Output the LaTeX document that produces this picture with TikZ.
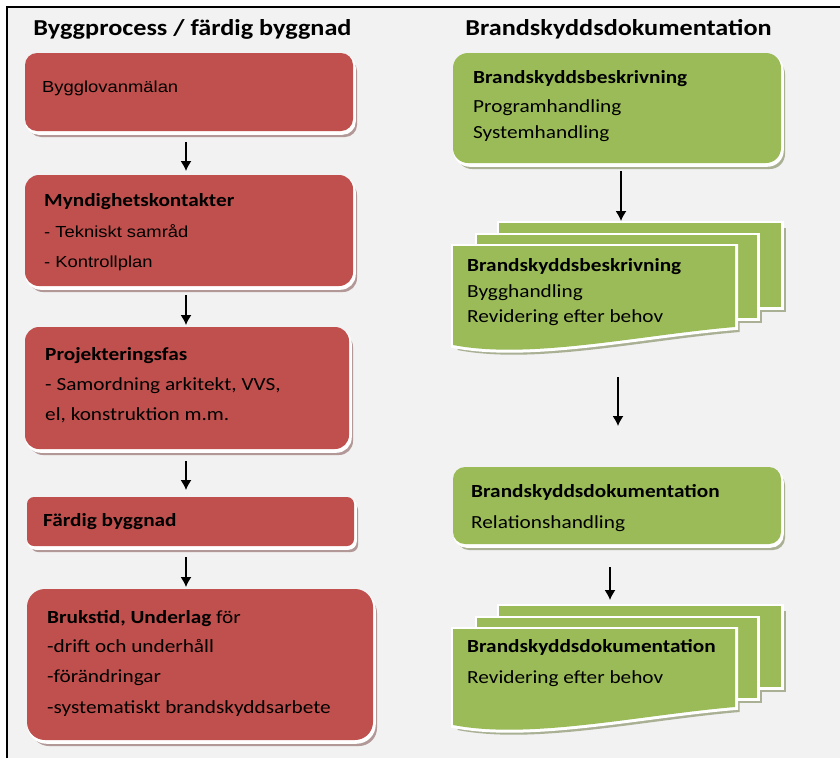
\documentclass[tikz,border=0pt]{standalone}
\usepackage{fontspec}
\setmainfont{Carlito}[FakeStretch=1.15]
\newfontfamily\arialf{Liberation Sans}[FakeStretch=1.15]
\usetikzlibrary{arrows.meta,calc}
\definecolor{bg}{HTML}{F2F2F2}
\definecolor{rboxc}{HTML}{C0504D}
\definecolor{gboxc}{HTML}{9BBB59}
\definecolor{rshad}{HTML}{B39898}
\definecolor{gshad}{HTML}{A9B094}
\newcommand\layered[3]{%
  \fill[#2, shift={(4,6)}] #3;
  \filldraw[white, line width=2.5, shift={(1.5,2.5)}] #3;
  \fill[#1] #3;}
\newcommand\shadowonly[2]{\fill[#1, shift={(4.5,5)}] #2;}
\newcommand\sheet[2]{%
  \filldraw[white, line width=5, shift={(0.5,0.5)}] #2;
  \fill[#1] #2;}
\newcommand\mdoc[2]{% #1 = top of back sheet, #2 = height
  \shadowonly{gshad}{(499,#1) rectangle (781,#1+#2)}
  \shadowonly{gshad}{(477,#1+12) rectangle (757,#1+11+#2)}
  \shadowonly{gshad}{(453,#1+23) -- (735,#1+23) -- (735,#1+20+#2)
     .. controls (640,#1+28+#2) and (530,#1+53+#2) .. (453,#1+38+#2) -- cycle}
  \sheet{gboxc}{(499,#1) rectangle (781,#1+#2)}
  \sheet{gboxc}{(477,#1+12) rectangle (757,#1+11+#2)}
  \sheet{gboxc}{(453,#1+23) -- (735,#1+23) -- (735,#1+20+#2)
     .. controls (640,#1+28+#2) and (530,#1+53+#2) .. (453,#1+38+#2) -- cycle}}
\begin{document}
\begin{tikzpicture}[x=1pt,y=-1pt,
  txt/.style={anchor=base west, inner sep=0pt, font=\fontsize{18.5}{22}\selectfont},
  atxt/.style={anchor=base west, inner sep=0pt, font=\arialf\fontsize{16}{20}\selectfont},
  ttl/.style={anchor=base, inner sep=0pt, font=\bfseries\fontsize{22.8}{26}\selectfont},
  arr/.style={line width=1.3pt, -{Latex[length=10pt,width=11pt]}}]
\useasboundingbox (0,0) rectangle (840,758);
\fill[white] (0,0) rectangle (840,758);
\fill[bg] (7,7) rectangle (840,758);
\draw[line width=1.5pt] (7,758) -- (7,7) -- (840,7);

% titles
\node[ttl] (title1) at (192.5,35) {Byggprocess / färdig byggnad};
\node[ttl] (title2) at (618.5,35) {Brandskyddsdokumentation};

% red boxes
\layered{rboxc}{rshad}{[rounded corners=12pt] (25,53) rectangle (353,131)}
\layered{rboxc}{rshad}{[rounded corners=14pt] (25,175) rectangle (353,286)}
\layered{rboxc}{rshad}{[rounded corners=14pt] (25,327) rectangle (349,449)}
\layered{rboxc}{rshad}{[rounded corners=7pt] (27,497) rectangle (354,546)}
\layered{rboxc}{rshad}{[rounded corners=18pt] (27,589) rectangle (373,740)}

\node[atxt] (b1) at (42,92) {Bygglovanmälan};
\node[txt] (b2a) at (44,206) {\bfseries Myndighetskontakter};
\node[atxt] (b2b) at (44,237) {- Tekniskt samråd};
\node[atxt] (b2c) at (44,267) {- Kontrollplan};
\node[txt] (b3a) at (45,360) {\bfseries Projekteringsfas};
\node[txt] (b3b) at (45,390) {- Samordning arkitekt, VVS,};
\node[txt] (b3c) at (45,420) {el, konstruktion m.m.};
\node[txt] (b4) at (43,526) {\bfseries Färdig byggnad};
\node[txt] (b5a) at (47,623) {\textbf{Brukstid, Underlag} för};
\node[txt] (b5b) at (47,652) {-drift och underhåll};
\node[txt] (b5c) at (47,682) {-förändringar};
\node[txt] (b5d) at (47,713) {-systematiskt brandskyddsarbete};

% green boxes
\layered{gboxc}{gshad}{[rounded corners=15pt] (453,53) rectangle (781,163)}
\mdoc{223}{84}
\layered{gboxc}{gshad}{[rounded corners=12pt] (453,467) rectangle (781,544)}
\mdoc{606}{81}

\node[txt] (g1a) at (473,83) {\bfseries Brandskyddsbeskrivning};
\node[txt] (g1b) at (473,112) {Programhandling};
\node[txt] (g1c) at (473,138) {Systemhandling};
\node[txt] (g2a) at (467,271) {\bfseries Brandskyddsbeskrivning};
\node[txt] (g2b) at (467,297) {Bygghandling};
\node[txt] (g2c) at (467,322) {Revidering efter behov};
\node[txt] (g3a) at (471,497) {\bfseries Brandskyddsdokumentation};
\node[txt] (g3b) at (471,528) {Relationshandling};
\node[txt] (g4a) at (467,652) {\bfseries Brandskyddsdokumentation};
\node[txt] (g4b) at (467,683) {Revidering efter behov};

% arrows
\coordinate (l1s) at (186,142); \coordinate (l1e) at (186,171);
\coordinate (l2s) at (186,295); \coordinate (l2e) at (186,325);
\coordinate (l3s) at (186,461); \coordinate (l3e) at (186,490);
\coordinate (l4s) at (186,557); \coordinate (l4e) at (186,587);
\coordinate (r1s) at (621,171); \coordinate (r1e) at (621,221);
\coordinate (r2s) at (618,377); \coordinate (r2e) at (618,426);
\coordinate (r3s) at (610,567); \coordinate (r3e) at (610,600);
\foreach \a in {l1,l2,l3,l4,r1,r2,r3} {\draw[arr] (\a s) -- (\a e);}
\end{tikzpicture}
\end{document}
